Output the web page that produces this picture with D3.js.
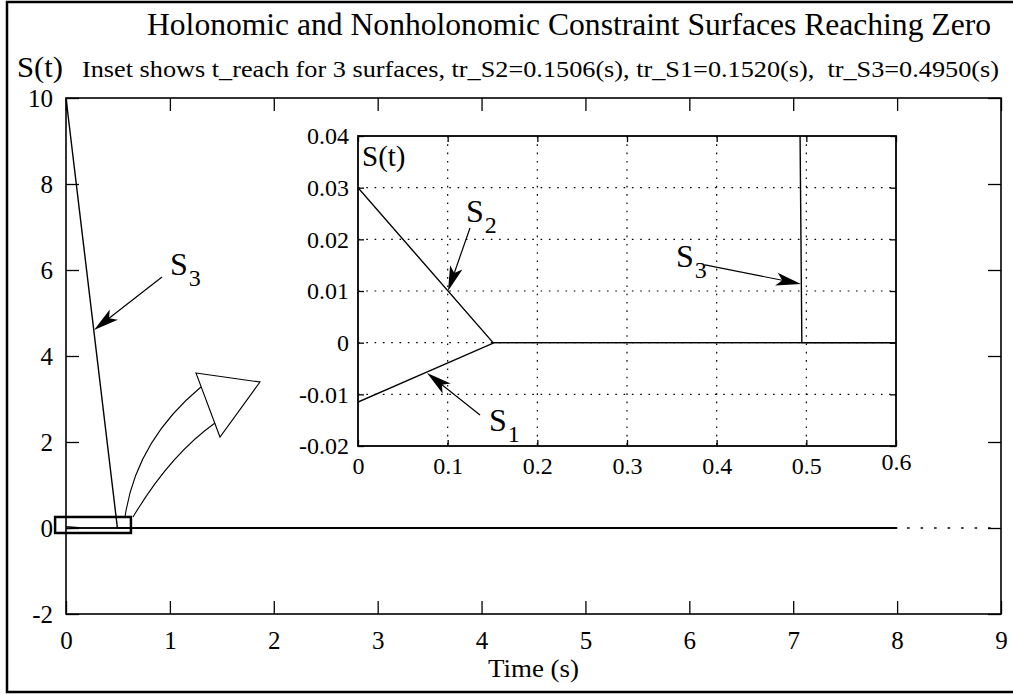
<!DOCTYPE html>
<html><head><meta charset="utf-8">
<script src="https://cdn.jsdelivr.net/npm/d3@7"></script>
<style>
body{margin:0;background:#fff}
svg{display:block}
text{font-family:"Liberation Serif","Times New Roman",serif;fill:#000}
</style>
</head><body>
<svg id="c" width="1013" height="694"></svg>
<script>
// ---------------- data ----------------
const surfaceNames   = ["S1", "S2", "S3"];
const initialValues  = [-0.0115, 0.030, 10];      // S(0)
const reachTimes     = [0.1520, 0.1506, 0.4950];  // t_reach (s)
const endTime        = 8;                          // simulated end
const extensionTimes = [8, 9];                     // dotted continuation
const mainXTicks  = [0, 1, 2, 3, 4, 5, 6, 7, 8, 9];
const mainYTicks  = [-2, 0, 2, 4, 6, 8, 10];
const insetXTicks = [0, 0.1, 0.2, 0.3, 0.4, 0.5, 0.6];
const insetXLabels = ["0", "0.1", "0.2", "0.3", "0.4", "0.5", "0.6"];
const insetYTicks = [-0.02, -0.01, 0, 0.01, 0.02, 0.03, 0.04];
const insetYLabels = ["-0.02", "-0.01", "0", "0.01", "0.02", "0.03", "0.04"];
const titleText    = "Holonomic and Nonholonomic Constraint Surfaces Reaching Zero";
const subtitleText = "Inset shows t_reach for 3 surfaces, tr_S2=0.1506(s), tr_S1=0.1520(s),  tr_S3=0.4950(s)";
const xLabelText   = "Time (s)";
const yLabelText   = "S(t)";

// annotations (data units of the axes they sit in)
const zoomBox      = [[-0.105, 0.256], [0.625, -0.116]];
const hollowUpper  = [[0.568, 0.256], [0.674, 2.023], [1.299, 3.279]];
const hollowLower  = [[0.645, 0.256], [1.001, 1.698], [1.434, 2.442]];
const hollowHead   = [[1.251, 3.605], [1.867, 3.395], [1.482, 2.116]];
const mainS3Arrow  = [[0.924, 5.837], [0.27, 4.605]];
const mainS3Label  = [1.0, 5.884];
const insetArrows  = [
  [[0.1361, -0.01399], [0.077, -0.00586]],  // S1
  [[0.1249, 0.0222], [0.1004, 0.0100]],     // S2
  [[0.387, 0.01504], [0.494, 0.01136]]      // S3
];
const insetLabels  = [[0.1461, -0.01709], [0.1204, 0.02336], [0.3546, 0.01465]];

// series built from the values above
const series = surfaceNames.map((n, i) => ({
  name: n,
  pts: [[0, initialValues[i]], [reachTimes[i], 0], [endTime, 0]]
}));

// ---------------- layout ----------------
const FONT = '"Liberation Serif","Times New Roman",serif';
const svg = d3.select("#c");
const M = {l: 66, r: 1001, t: 98, b: 614};
const I = {l: 358, r: 896, t: 136, b: 446};

const x = d3.scaleLinear().domain([0, 9]).range([M.l, M.r]);
const y = d3.scaleLinear().domain([-2, 10]).range([M.b, M.t]);
const xi = d3.scaleLinear().domain([0, 0.6]).range([I.l, I.r]);
const yi = d3.scaleLinear().domain([-0.02, 0.04]).range([I.b, I.t]);

// outer frame
svg.append("rect").attr("x", 7).attr("y", 2).attr("width", 1020).attr("height", 690)
  .attr("fill", "none").attr("stroke", "#000").attr("stroke-width", 2.5);

// titles
svg.append("text").attr("x", 147).attr("y", 35).attr("font-size", 31)
  .attr("textLength", 844).attr("lengthAdjust", "spacingAndGlyphs").text(titleText);
svg.append("text").attr("x", 82).attr("y", 77).attr("font-size", 24)
  .attr("textLength", 917).attr("lengthAdjust", "spacingAndGlyphs")
  .style("white-space", "pre").text(subtitleText);
svg.append("text").attr("x", 17).attr("y", 77).attr("font-size", 30)
  .attr("textLength", 46).attr("lengthAdjust", "spacingAndGlyphs").text(yLabelText);
svg.append("text").attr("x", 488).attr("y", 677).attr("font-size", 25)
  .attr("textLength", 91).attr("lengthAdjust", "spacingAndGlyphs").text(xLabelText);

// main axes
function styleAxis(g, fs) {
  g.attr("font-family", null).attr("font-size", null);
  g.select(".domain").remove();
  g.selectAll(".tick line").attr("stroke", "#000").attr("stroke-width", 1.3);
  g.selectAll(".tick text").attr("fill", "#000")
    .style("font-size", fs + "px").style("font-family", FONT);
}
svg.append("g").attr("transform", `translate(0,${M.b})`)
  .call(d3.axisBottom(x).tickValues(mainXTicks).tickSize(-13).tickPadding(17).tickFormat(String))
  .call(g => styleAxis(g, 25));
svg.append("g").attr("transform", `translate(0,${M.t})`)
  .call(d3.axisTop(x).tickValues(mainXTicks).tickSize(-13).tickFormat(""))
  .call(g => styleAxis(g, 25));
svg.append("g").attr("transform", `translate(${M.l},0)`)
  .call(d3.axisLeft(y).tickValues(mainYTicks).tickSize(-13).tickPadding(13).tickFormat(String))
  .call(g => styleAxis(g, 25));
svg.append("g").attr("transform", `translate(${M.r},0)`)
  .call(d3.axisRight(y).tickValues(mainYTicks).tickSize(-13).tickFormat(""))
  .call(g => styleAxis(g, 25));
svg.append("rect").attr("x", M.l).attr("y", M.t).attr("width", M.r - M.l).attr("height", M.b - M.t)
  .attr("fill", "none").attr("stroke", "#000").attr("stroke-width", 1.6);

// main data
const lineMain = d3.line().x(d => x(d[0])).y(d => y(d[1]));
svg.append("g").selectAll("path").data(series).join("path")
  .attr("d", d => lineMain(d.pts)).attr("fill", "none").attr("stroke", "#000").attr("stroke-width", 1.4);
svg.append("path").attr("d", lineMain(extensionTimes.map(t => [t, 0])))
  .attr("fill", "none").attr("stroke", "#000").attr("stroke-width", 1.4)
  .attr("stroke-dasharray", "2.5,11").attr("stroke-dashoffset", -10);

// zoom box
svg.append("rect")
  .attr("x", x(zoomBox[0][0])).attr("y", y(zoomBox[0][1]))
  .attr("width", x(zoomBox[1][0]) - x(zoomBox[0][0])).attr("height", y(zoomBox[1][1]) - y(zoomBox[0][1]))
  .attr("fill", "none").attr("stroke", "#000").attr("stroke-width", 2.5);

// hollow curved arrow
const q = (p) => `M${x(p[0][0])},${y(p[0][1])}Q${x(p[1][0])},${y(p[1][1])} ${x(p[2][0])},${y(p[2][1])}`;
svg.append("path").attr("d", q(hollowUpper)).attr("fill", "none").attr("stroke", "#000").attr("stroke-width", 1.1);
svg.append("path").attr("d", q(hollowLower)).attr("fill", "none").attr("stroke", "#000").attr("stroke-width", 1.1);
svg.append("path").attr("d", "M" + hollowHead.map(p => `${x(p[0])},${y(p[1])}`).join("L") + "Z")
  .attr("fill", "none").attr("stroke", "#000").attr("stroke-width", 1.1);

// filled arrow helper
function arrow(g, x0, y0, x1, y1) {
  const dx = x1 - x0, dy = y1 - y0, L = Math.hypot(dx, dy);
  const ux = dx / L, uy = dy / L, nx = -uy, ny = ux;
  const hl = 25, hw = 6.5, notch = 6;
  g.append("line").attr("x1", x0).attr("y1", y0)
    .attr("x2", x1 - ux * (hl - notch)).attr("y2", y1 - uy * (hl - notch))
    .attr("stroke", "#000").attr("stroke-width", 1.2);
  const bx = x1 - ux * hl, by = y1 - uy * hl;
  const pts = [[x1, y1], [bx + nx * hw, by + ny * hw], [x1 - ux * (hl - notch), y1 - uy * (hl - notch)], [bx - nx * hw, by - ny * hw]];
  g.append("path").attr("d", "M" + pts.map(p => p.join(",")).join("L") + "Z").attr("fill", "#000");
}
function sLabel(g, px, py, sub) {
  const t = g.append("text").attr("x", px).attr("y", py).attr("font-size", 32);
  t.append("tspan").text("S");
  t.append("tspan").attr("font-size", 24).attr("dx", 1).attr("dy", 11).text(sub);
}
arrow(svg, x(mainS3Arrow[0][0]), y(mainS3Arrow[0][1]), x(mainS3Arrow[1][0]), y(mainS3Arrow[1][1]));
sLabel(svg, x(mainS3Label[0]), y(mainS3Label[1]), "3");

// ---------------- inset ----------------
const ig = svg.append("g");
ig.append("rect").attr("x", I.l).attr("y", I.t).attr("width", I.r - I.l).attr("height", I.b - I.t).attr("fill", "#fff");
// grid
ig.append("g").selectAll("line").data(insetXTicks.slice(1, -1)).join("line")
  .attr("x1", d => xi(d)).attr("x2", d => xi(d)).attr("y1", I.t).attr("y2", I.b)
  .attr("stroke", "#000").attr("stroke-width", 1.2).attr("stroke-dasharray", "1.6,6.7");
ig.append("g").selectAll("line").data(insetYTicks.slice(1, -1)).join("line")
  .attr("y1", d => yi(d)).attr("y2", d => yi(d)).attr("x1", I.l).attr("x2", I.r)
  .attr("stroke", "#000").attr("stroke-width", 1.2).attr("stroke-dasharray", "1.6,6.7");
// axes
ig.append("g").attr("transform", `translate(0,${I.b})`)
  .call(d3.axisBottom(xi).tickValues(insetXTicks).tickSize(-6).tickPadding(11).tickFormat((d, i) => insetXLabels[i]))
  .call(g => styleAxis(g, 24))
  .call(g => g.selectAll(".tick text").filter((d, i, n) => i === n.length - 1).attr("y", 7));
ig.append("g").attr("transform", `translate(0,${I.t})`)
  .call(d3.axisTop(xi).tickValues(insetXTicks).tickSize(-6).tickFormat(""))
  .call(g => styleAxis(g, 24));
ig.append("g").attr("transform", `translate(${I.l},0)`)
  .call(d3.axisLeft(yi).tickValues(insetYTicks).tickSize(-6).tickPadding(9).tickFormat((d, i) => insetYLabels[i]))
  .call(g => styleAxis(g, 24));
ig.append("g").attr("transform", `translate(${I.r},0)`)
  .call(d3.axisRight(yi).tickValues(insetYTicks).tickSize(-6).tickFormat(""))
  .call(g => styleAxis(g, 24));
// data
svg.append("clipPath").attr("id", "ic").append("rect")
  .attr("x", I.l).attr("y", I.t).attr("width", I.r - I.l).attr("height", I.b - I.t);
const lineInset = d3.line().x(d => xi(d[0])).y(d => yi(d[1]));
ig.append("g").attr("clip-path", "url(#ic)").selectAll("path").data(series).join("path")
  .attr("d", d => lineInset(d.pts)).attr("fill", "none").attr("stroke", "#000").attr("stroke-width", 1.4);
ig.append("rect").attr("x", I.l).attr("y", I.t).attr("width", I.r - I.l).attr("height", I.b - I.t)
  .attr("fill", "none").attr("stroke", "#000").attr("stroke-width", 1.8);
ig.append("text").attr("x", 362).attr("y", 166).attr("font-size", 29).text(yLabelText);
insetArrows.forEach(a => arrow(ig, xi(a[0][0]), yi(a[0][1]), xi(a[1][0]), yi(a[1][1])));
insetLabels.forEach((p, i) => sLabel(ig, xi(p[0]), yi(p[1]), surfaceNames[i].slice(1)));
</script>
</body></html>
